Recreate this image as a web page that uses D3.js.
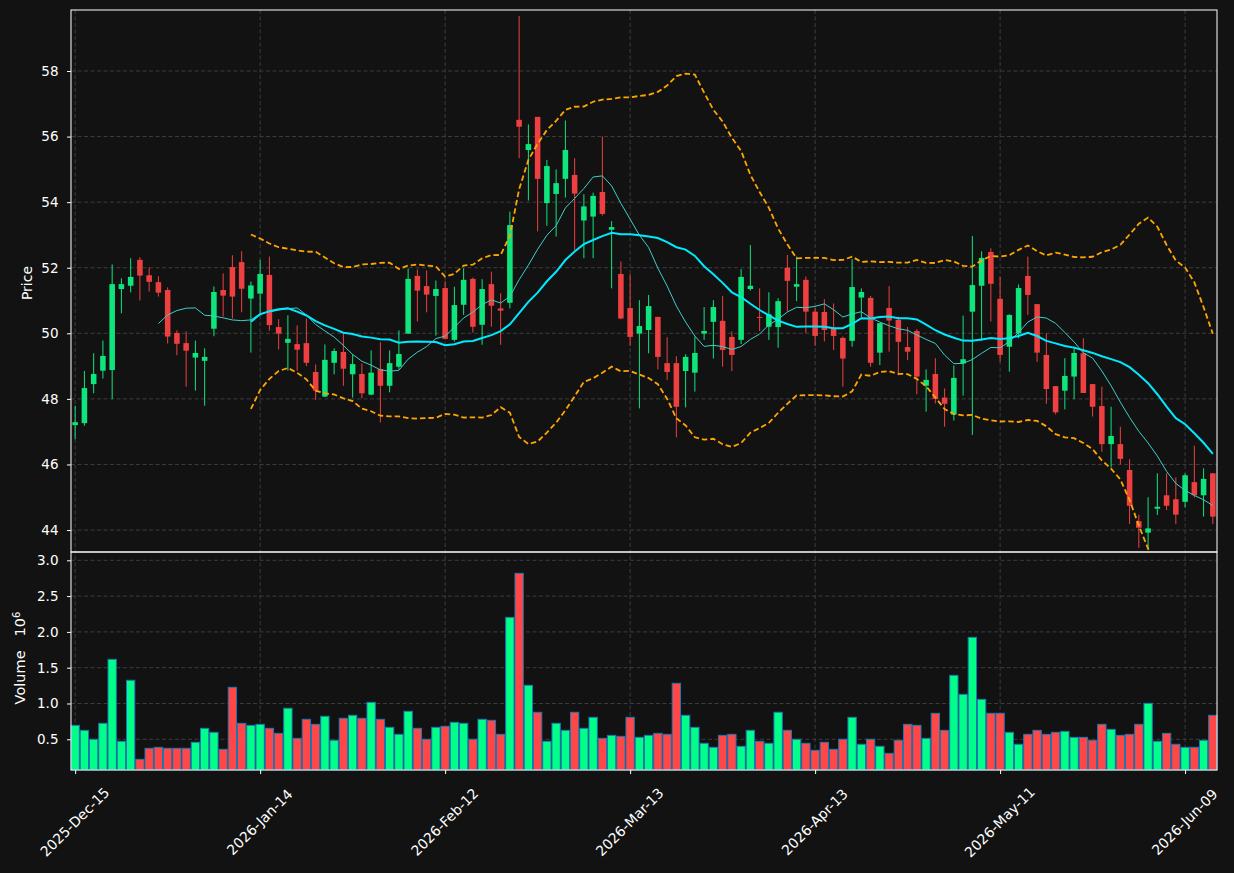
<!DOCTYPE html>
<html>
<head>
<meta charset="utf-8">
<script src="https://cdn.jsdelivr.net/npm/d3@7"></script>
<style>
    body { margin: 0; background: #121212; }
    svg text { font-family: "DejaVu Sans", sans-serif; fill: #ffffff; }
</style>
</head>
<body>
<svg id="chart" width="1234" height="873"></svg>
<script>
// daily bars, one per trading session (index 0..123)
var opens = [47.20, 47.26, 48.45, 48.86, 48.88, 51.35, 51.45, 52.24, 51.77, 51.56,
    51.32, 50.01, 49.70, 49.26, 49.16, 50.14, 51.32, 52.02, 52.17, 51.06,
    51.21, 51.78, 50.19, 49.71, 49.67, 49.70, 48.82, 48.07, 49.10, 49.43,
    48.75, 48.76, 48.13, 48.91, 48.40, 48.98, 49.99, 51.75, 51.44, 51.14,
    51.38, 49.80, 50.87, 51.66, 50.26, 51.50, 50.76, 50.93, 56.51, 55.59,
    56.60, 53.97, 54.25, 54.71, 54.83, 53.44, 53.56, 54.31, 53.16, 51.81,
    50.77, 49.99, 50.10, 50.50, 49.09, 49.09, 48.85, 48.80, 49.99, 50.35,
    50.38, 49.89, 49.80, 51.35, 50.50, 50.20, 50.19, 52.00, 51.42, 51.63,
    50.66, 50.65, 50.14, 49.86, 49.77, 51.09, 51.08, 49.41, 50.77, 50.41,
    49.58, 50.07, 48.40, 48.76, 48.04, 47.52, 49.08, 50.66, 51.45, 52.48,
    51.05, 49.59, 50.00, 51.75, 50.89, 49.34, 48.39, 48.25, 48.68, 49.39,
    48.45, 47.78, 46.62, 46.62, 45.83, 44.27, 43.92, 44.65, 45.06, 44.94,
    44.86, 45.46, 45.06, 45.73];
var highs = [47.79, 48.85, 49.39, 49.78, 52.10, 51.68, 52.29, 52.32, 52.01, 51.74,
    51.40, 50.09, 50.06, 49.78, 49.54, 51.43, 51.83, 52.38, 52.50, 51.58,
    52.24, 52.34, 50.43, 50.55, 50.24, 50.45, 49.05, 49.66, 49.54, 50.00,
    49.36, 49.08, 49.48, 49.73, 49.48, 50.09, 51.98, 51.95, 51.92, 51.61,
    51.59, 51.42, 51.98, 51.70, 51.65, 51.88, 51.22, 53.71, 59.68, 56.37,
    56.60, 55.29, 55.00, 56.49, 55.34, 54.24, 54.29, 56.00, 53.42, 52.19,
    51.80, 51.01, 51.17, 50.50, 49.88, 49.30, 49.36, 49.90, 50.80, 51.01,
    51.14, 50.06, 51.96, 52.69, 51.37, 51.25, 51.07, 52.39, 52.34, 51.73,
    50.79, 51.04, 50.91, 49.90, 52.26, 51.37, 51.14, 50.31, 51.44, 50.51,
    50.19, 50.13, 48.90, 49.24, 48.32, 49.02, 50.54, 52.97, 52.50, 52.59,
    51.73, 50.58, 51.49, 52.34, 50.89, 50.00, 48.39, 49.24, 49.59, 49.85,
    48.45, 48.37, 47.76, 47.15, 46.16, 44.47, 45.00, 45.73, 45.73, 45.61,
    45.73, 46.57, 45.88, 45.73];
var lows = [46.77, 47.18, 48.17, 48.62, 47.99, 50.61, 51.25, 51.00, 51.27, 51.12,
    49.69, 49.33, 48.37, 48.25, 47.79, 49.91, 50.51, 50.45, 50.64, 49.41,
    50.60, 50.08, 49.51, 48.86, 48.86, 49.00, 47.97, 48.05, 48.75, 48.40,
    48.04, 48.02, 48.11, 47.28, 48.20, 48.90, 49.98, 50.36, 50.64, 49.93,
    49.81, 49.75, 50.56, 50.02, 49.65, 50.20, 49.65, 50.76, 55.34, 54.05,
    53.11, 53.28, 52.95, 54.14, 52.54, 52.29, 52.29, 53.59, 51.37, 50.43,
    49.62, 47.71, 49.39, 48.90, 48.57, 46.83, 47.74, 48.22, 49.80, 49.23,
    48.98, 48.85, 49.67, 51.30, 50.07, 49.80, 49.56, 50.66, 50.98, 50.00,
    49.62, 49.75, 49.49, 48.37, 49.59, 50.49, 48.98, 49.03, 49.44, 48.72,
    49.18, 48.14, 47.61, 47.86, 47.15, 47.34, 48.10, 46.90, 49.77, 50.36,
    49.13, 48.83, 49.85, 50.56, 49.13, 47.85, 47.53, 47.68, 47.99, 48.18,
    47.46, 46.39, 45.91, 46.00, 44.18, 43.46, 43.40, 44.46, 44.61, 44.18,
    44.69, 44.99, 44.41, 44.18];
var closes = [47.29, 48.33, 48.76, 49.31, 51.50, 51.50, 51.72, 51.76, 51.57, 51.24,
    49.90, 49.68, 49.47, 49.40, 49.28, 51.26, 51.15, 51.12, 51.36, 51.46,
    51.81, 50.25, 49.99, 49.83, 49.50, 49.10, 48.25, 49.19, 49.46, 48.92,
    49.06, 48.17, 48.80, 48.40, 49.09, 49.37, 51.66, 51.30, 51.18, 51.35,
    49.83, 50.86, 51.63, 50.20, 51.35, 50.84, 50.69, 53.30, 56.30, 55.77,
    54.71, 55.10, 54.58, 55.59, 54.26, 53.87, 54.19, 53.64, 53.24, 50.45,
    49.89, 50.22, 50.83, 49.28, 48.82, 47.76, 49.28, 49.40, 50.07, 50.80,
    49.49, 49.34, 51.72, 51.45, 50.47, 50.58, 50.98, 51.60, 51.50, 50.66,
    49.92, 50.10, 49.92, 49.23, 51.41, 51.26, 49.10, 50.31, 50.39, 49.74,
    49.44, 48.68, 48.58, 48.00, 47.85, 48.64, 49.21, 51.47, 52.30, 51.51,
    49.34, 50.56, 51.38, 51.17, 49.41, 48.30, 47.59, 48.70, 49.40, 48.18,
    47.76, 46.62, 46.87, 46.17, 44.74, 44.07, 44.05, 44.71, 44.74, 44.47,
    45.67, 45.06, 45.56, 44.41];
// volume in millions
var volumes = [0.695, 0.625, 0.50, 0.723, 1.617, 0.472, 1.324, 0.220, 0.374, 0.388,
    0.374, 0.374, 0.374, 0.458, 0.653, 0.597, 0.360, 1.226, 0.723, 0.695,
    0.709, 0.653, 0.583, 0.933, 0.513, 0.779, 0.709, 0.821, 0.486, 0.793,
    0.835, 0.793, 1.016, 0.779, 0.667, 0.569, 0.891, 0.653, 0.50, 0.667,
    0.681, 0.737, 0.723, 0.50, 0.779, 0.765, 0.569, 2.203, 2.818, 1.254,
    0.877, 0.472, 0.723, 0.625, 0.877, 0.653, 0.807, 0.513, 0.555, 0.541,
    0.807, 0.527, 0.555, 0.583, 0.569, 1.282, 0.835, 0.667, 0.444, 0.388,
    0.555, 0.569, 0.402, 0.625, 0.472, 0.444, 0.877, 0.625, 0.50, 0.444,
    0.346, 0.458, 0.360, 0.50, 0.807, 0.430, 0.50, 0.402, 0.304, 0.486,
    0.709, 0.695, 0.513, 0.863, 0.625, 1.393, 1.128, 1.924, 1.058, 0.863,
    0.863, 0.597, 0.430, 0.569, 0.625, 0.569, 0.597, 0.611, 0.527, 0.527,
    0.486, 0.709, 0.639, 0.555, 0.569, 0.709, 1.002, 0.472, 0.583, 0.430,
    0.388, 0.388, 0.486, 0.835];
var tickIndex = [0, 20, 40, 60, 80, 100, 120];
var tickLabels = ["2025-Dec-15", "2026-Jan-14", "2026-Feb-12", "2026-Mar-13", "2026-Apr-13", "2026-May-11", "2026-Jun-09"];
var priceTicks = [44, 46, 48, 50, 52, 54, 56, 58];
var volumeTicks = [0.5, 1.0, 1.5, 2.0, 2.5, 3.0];

const upColor = "#0ee57c";
const downColor = "#ee4040";
const upVolColor = "#00ff88";
const downVolColor = "#ff4747";
const gridColor = "#3d3d3d";

var panel = { left: 71, right: 1217, priceTop: 10, priceBottom: 552, volBottom: 770 };

var svg = d3.select("#chart");
svg.append("rect").attr("width", 1234).attr("height", 873).attr("fill", "#121212");

var bars = closes.map(function (c, i) {
    return { i: i, o: opens[i], h: highs[i], l: lows[i], c: c, v: volumes[i], up: c >= opens[i] };
});

var x = d3.scaleLinear().domain([-0.45, bars.length - 0.55]).range([panel.left, panel.right]);
var yPrice = d3.scaleLinear().domain([43.33, 59.86]).range([panel.priceBottom, panel.priceTop]);
var yVol = d3.scaleLinear().domain([0.071, 3.116]).range([panel.volBottom, panel.priceBottom]);
var step = x(1) - x(0);

// rolling mean / std over the closes (what the indicator lines are)
function rolling(n, fn) {
    var out = [];
    for (var i = n - 1; i < closes.length; i++) {
        var win = closes.slice(i - n + 1, i + 1);
        out.push([i, fn(win)]);
    }
    return out;
}
var ma10 = rolling(10, d3.mean);
var ma20 = rolling(20, d3.mean);
var bbUpper = rolling(20, function (w) { return d3.mean(w) + 2 * d3.deviation(w); });
var bbLower = rolling(20, function (w) { return d3.mean(w) - 2 * d3.deviation(w); });

svg.append("defs").append("clipPath").attr("id", "priceClip")
    .append("rect")
    .attr("x", panel.left).attr("y", panel.priceTop)
    .attr("width", panel.right - panel.left).attr("height", panel.priceBottom - panel.priceTop);

// grid
var grid = svg.append("g").attr("stroke", gridColor).attr("stroke-width", 1).attr("stroke-dasharray", "4,2.5");
grid.selectAll("line.gy").data(priceTicks).enter().append("line")
    .attr("x1", panel.left).attr("x2", panel.right)
    .attr("y1", d => yPrice(d)).attr("y2", d => yPrice(d));
grid.selectAll("line.gv").data(volumeTicks).enter().append("line")
    .attr("x1", panel.left).attr("x2", panel.right)
    .attr("y1", d => yVol(d)).attr("y2", d => yVol(d));
grid.selectAll("line.gx").data(tickIndex).enter().append("line")
    .attr("x1", d => x(d)).attr("x2", d => x(d))
    .attr("y1", panel.priceTop).attr("y2", panel.volBottom);

// candles
var candles = svg.append("g").attr("clip-path", "url(#priceClip)");
candles.selectAll("line.wick").data(bars).enter().append("line")
    .attr("x1", d => x(d.i)).attr("x2", d => x(d.i))
    .attr("y1", d => yPrice(d.h)).attr("y2", d => yPrice(d.l))
    .attr("stroke", d => d.up ? upColor : downColor)
    .attr("stroke-width", 1);
candles.selectAll("rect.body").data(bars).enter().append("rect")
    .attr("x", d => x(d.i) - step * 0.3)
    .attr("width", step * 0.6)
    .attr("y", d => yPrice(Math.max(d.o, d.c)))
    .attr("height", d => Math.max(1, Math.abs(yPrice(d.o) - yPrice(d.c))))
    .attr("fill", d => d.up ? upColor : downColor);

// indicator lines
var line = d3.line().x(d => x(d[0])).y(d => yPrice(d[1]));
var lines = svg.append("g").attr("clip-path", "url(#priceClip)").attr("fill", "none");
lines.append("path").attr("d", line(bbUpper)).attr("stroke", "#ffa500").attr("stroke-width", 1.8).attr("stroke-dasharray", "5.5,3");
lines.append("path").attr("d", line(bbLower)).attr("stroke", "#ffa500").attr("stroke-width", 1.8).attr("stroke-dasharray", "5.5,3");
lines.append("path").attr("d", line(ma10)).attr("stroke", "#3fcfc8").attr("stroke-width", 1);
lines.append("path").attr("d", line(ma20)).attr("stroke", "#00eaff").attr("stroke-width", 2);

// volume bars
svg.append("g").selectAll("rect").data(bars).enter().append("rect")
    .attr("x", d => x(d.i) - step * 0.45)
    .attr("width", step * 0.9)
    .attr("y", d => yVol(d.v))
    .attr("height", d => panel.volBottom - yVol(d.v))
    .attr("fill", d => d.up ? upVolColor : downVolColor)
    .attr("stroke", "#1f77b4")
    .attr("stroke-width", 1);

// frames
svg.append("rect").attr("x", panel.left).attr("y", panel.priceTop)
    .attr("width", panel.right - panel.left).attr("height", panel.priceBottom - panel.priceTop)
    .attr("fill", "none").attr("stroke", "#ffffff").attr("stroke-width", 1);
svg.append("rect").attr("x", panel.left).attr("y", panel.priceBottom)
    .attr("width", panel.right - panel.left).attr("height", panel.volBottom - panel.priceBottom)
    .attr("fill", "none").attr("stroke", "#ffffff").attr("stroke-width", 1);

// axes
function styleAxis(g) {
    g.select(".domain").remove();
    g.selectAll(".tick line").attr("stroke", "#ffffff");
    g.selectAll(".tick text").attr("fill", "#ffffff").style("font-size", "13.5px");
}
svg.append("g").attr("transform", "translate(" + panel.left + ",0)")
    .call(d3.axisLeft(yPrice).tickValues(priceTicks).tickSize(4).tickPadding(8.5).tickFormat(d3.format("d")))
    .call(styleAxis);
svg.append("g").attr("transform", "translate(" + panel.left + ",0)")
    .call(d3.axisLeft(yVol).tickValues(volumeTicks).tickSize(4).tickPadding(8.5).tickFormat(d3.format(".1f")))
    .call(styleAxis);
var xAxis = svg.append("g").attr("transform", "translate(0," + panel.volBottom + ")")
    .call(d3.axisBottom(x).tickValues(tickIndex).tickSize(4).tickFormat((d, i) => tickLabels[i]))
    .call(styleAxis);
xAxis.selectAll(".tick text")
    .style("font-size", "14px")
    .attr("text-anchor", "middle")
    .attr("dy", null).attr("y", null)
    .attr("dominant-baseline", "central")
    .attr("transform", "translate(-1,52) rotate(-45)");

// axis titles
svg.append("text").attr("transform", "translate(32,283) rotate(-90)")
    .attr("text-anchor", "middle").style("font-size", "14px").text("Price");
var volLabel = svg.append("text")
    .attr("transform", "translate(25,658) rotate(-90)")
    .attr("text-anchor", "middle").style("font-size", "14.5px");
volLabel.append("tspan").text("Volume");
volLabel.append("tspan").attr("dx", 14).text("10");
volLabel.append("tspan").attr("dy", "-0.5em").style("font-size", "10px").text("6");
</script>
</body>
</html>
